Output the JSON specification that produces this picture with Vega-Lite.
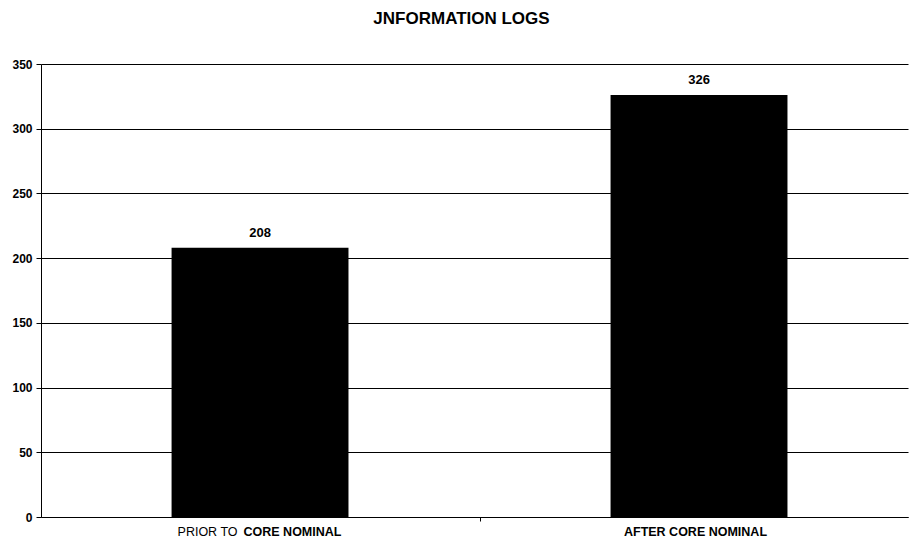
{
  "$schema": "https://vega.github.io/schema/vega-lite/v6.json",
  "width": 867,
  "height": 453,
  "autosize": {"type": "none"},
  "padding": {"left": 41, "top": 64, "right": 2, "bottom": 25},
  "background": "white",
  "config": {
    "font": "Liberation Sans",
    "view": {"stroke": null}
  },
  "title": {
    "text": "JNFORMATION LOGS",
    "fontSize": 17,
    "fontWeight": "bold",
    "font": "Liberation Sans",
    "color": "black",
    "anchor": "middle",
    "dx": -13,
    "offset": 30
  },
  "data": {
    "values": [
      {"period": "PRIOR TO CORE NOMINAL", "logs": 208, "normalPart": "PRIOR TO", "boldPart": "CORE NOMINAL"},
      {"period": "AFTER CORE NOMINAL", "logs": 326, "normalPart": "", "boldPart": "AFTER CORE NOMINAL"}
    ]
  },
  "encoding": {
    "x": {
      "field": "period",
      "type": "nominal",
      "sort": null,
      "scale": {"paddingInner": 0.597, "paddingOuter": 0.286, "align": 0.52},
      "axis": {
        "title": null,
        "labels": false,
        "domainColor": "black",
        "tickColor": "black",
        "tickOffset": 219.5,
        "tickSize": 4,
        "grid": false
      }
    }
  },
  "layer": [
    {
      "mark": {"type": "bar", "color": "black"},
      "encoding": {
        "y": {
          "field": "logs",
          "type": "quantitative",
          "scale": {"domain": [0, 350], "nice": false},
          "axis": {
            "title": null,
            "values": [0, 50, 100, 150, 200, 250, 300, 350],
            "labelFontWeight": "bold",
            "labelFontSize": 12,
            "labelColor": "black",
            "labelPadding": 4,
            "tickSize": 5,
            "tickColor": "black",
            "domainColor": "black",
            "grid": true,
            "gridColor": "black",
            "gridWidth": 1,
            "gridOpacity": 1
          }
        }
      }
    },
    {
      "mark": {"type": "text", "fontWeight": "bold", "fontSize": 13, "dy": -15, "color": "black"},
      "encoding": {
        "y": {"field": "logs", "type": "quantitative"},
        "text": {"field": "logs", "type": "quantitative"}
      }
    },
    {
      "transform": [{"filter": "datum.normalPart != ''"}],
      "mark": {"type": "text", "fontSize": 12.5, "align": "right", "baseline": "middle", "dx": -22.5, "dy": 15, "color": "black"},
      "encoding": {
        "y": {"datum": 0},
        "text": {"field": "normalPart"}
      }
    },
    {
      "transform": [{"filter": "datum.normalPart != ''"}],
      "mark": {"type": "text", "fontSize": 12.5, "fontWeight": "bold", "align": "left", "baseline": "middle", "dx": -16.5, "dy": 15, "color": "black"},
      "encoding": {
        "y": {"datum": 0},
        "text": {"field": "boldPart"}
      }
    },
    {
      "transform": [{"filter": "datum.normalPart == ''"}],
      "mark": {"type": "text", "fontSize": 12.5, "fontWeight": "bold", "align": "center", "baseline": "middle", "dx": -3.5, "dy": 15, "color": "black"},
      "encoding": {
        "y": {"datum": 0},
        "text": {"field": "boldPart"}
      }
    }
  ]
}
